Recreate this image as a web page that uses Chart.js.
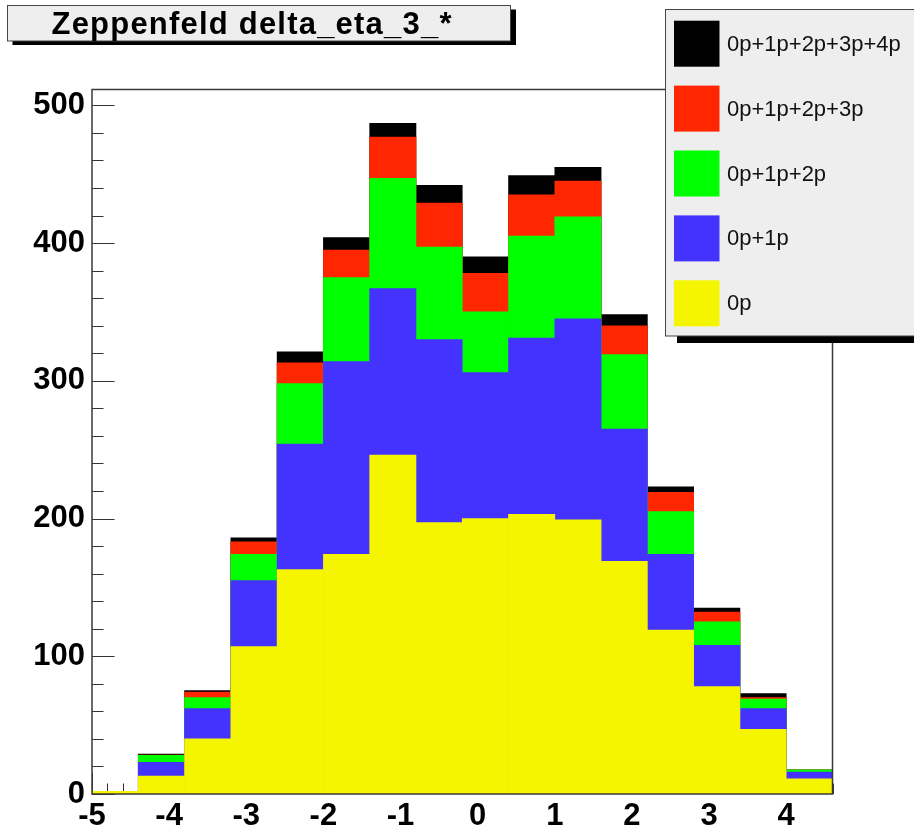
<!DOCTYPE html>
<html>
<head>
<meta charset="utf-8">
<title>Zeppenfeld delta_eta_3_*</title>
<script src="https://cdn.jsdelivr.net/npm/chart.js@4.4.1/dist/chart.umd.min.js"></script>
<style>
  html, body { margin: 0; padding: 0; background: #ffffff; }
  canvas { display: block; }
</style>
</head>
<body>
<canvas id="c" width="914" height="833"></canvas>
<script>
// Bin centres of the delta_eta histogram (16 bins of width 0.6 from -5 to 4.6)
const binCenters = [-4.7, -4.1, -3.5, -2.9, -2.3, -1.7, -1.1, -0.5, 0.1, 0.7, 1.3, 1.9, 2.5, 3.1, 3.7, 4.3];

// Cumulative event counts per bin for each parton-multiplicity sum
const h0p      = [2, 13, 40, 107, 163, 174, 246, 197, 200, 203, 199, 169, 119, 78, 47, 11];
const h01p     = [2, 23, 62, 155, 254, 314, 367, 330, 306, 331, 345, 265, 174, 108, 62, 16];
const h012p    = [2, 28, 70, 174, 298, 375, 447, 397, 350, 405, 419, 319, 205, 125, 69, 17.5];
const h0123p   = [2, 28.3, 74, 183, 313, 395, 477, 429, 378, 435, 445, 340, 219, 132, 70, 17.5];
const h01234p  = [2, 29, 75, 186, 321, 404, 487, 442, 390, 449, 455, 348, 223, 135, 73, 17.5];

const xTicks = [-5, -4, -3, -2, -1, 0, 1, 2, 3, 4];
const yTicks = [0, 100, 200, 300, 400, 500];

const seriesLabels = ['0p', '0p+1p', '0p+1p+2p', '0p+1p+2p+3p', '0p+1p+2p+3p+4p'];
const seriesValues = [h0p, h01p, h012p, h0123p, h01234p];
const seriesColors = ['#f5f500', '#4433ff', '#00ff00', '#ff2600', '#000000'];

const titleText = 'Zeppenfeld delta_eta_3_*';
const FONT = '"Liberation Sans", Arial, Helvetica, sans-serif';

// Inward tick marks (drawn under the histograms, like ROOT axes)
const axisTicks = {
  id: 'axisTicks',
  beforeDatasetsDraw(chart) {
    const { ctx, chartArea: a, scales: { x, y } } = chart;
    ctx.save();
    ctx.strokeStyle = '#333333';
    ctx.lineWidth = 1;
    ctx.beginPath();
    // y axis: major every 100, minor every 20
    for (let k = 0; k * 20 <= y.max; k++) {
      const v = k * 20;
      const p = Math.round(y.getPixelForValue(v)) + 0.5;
      const len = (v % 100 === 0) ? 22.5 : 11.5;
      ctx.moveTo(a.left, p);
      ctx.lineTo(a.left + len, p);
    }
    // x axis: major every 1, minor every 0.2
    for (let k = 0; xTicks[0] + k * 0.2 <= x.max + 1e-9; k++) {
      const v = xTicks[0] + k * 0.2;
      const p = Math.round(x.getPixelForValue(v)) + 0.5;
      const len = (k % 5 === 0) ? 21 : 10.5;
      ctx.moveTo(p, a.bottom);
      ctx.lineTo(p, a.bottom - len);
    }
    ctx.stroke();
    ctx.restore();
  },
  afterDatasetsDraw(chart) {
    const { ctx, chartArea: a } = chart;
    ctx.save();
    ctx.strokeStyle = '#3a3a3a';
    ctx.lineWidth = 1.5;
    ctx.strokeRect(a.left, a.top, a.right - a.left, a.bottom - a.top);
    ctx.restore();
  }
};

// Title pave and legend box with ROOT-style drop shadows
const paves = {
  id: 'paves',
  afterDraw(chart) {
    const ctx = chart.ctx;
    ctx.save();

    // title pave
    ctx.fillStyle = '#000000';
    ctx.fillRect(12.5, 9.5, 503.5, 35.5);
    ctx.fillStyle = '#eeeeee';
    ctx.fillRect(7.5, 5, 503, 36);
    ctx.strokeStyle = '#444444';
    ctx.lineWidth = 1;
    ctx.strokeRect(7.5, 5.5, 503, 35.5);

    ctx.fillStyle = '#000000';
    ctx.font = 'bold 31px ' + FONT;
    ctx.textAlign = 'left';
    ctx.textBaseline = 'alphabetic';
    const targetWidth = 400;
    const natural = ctx.measureText(titleText).width;
    const spacing = (targetWidth - natural) / (titleText.length - 1);
    if ('letterSpacing' in ctx) {
      ctx.letterSpacing = spacing.toFixed(2) + 'px';
      ctx.fillText(titleText, 251.5 - targetWidth / 2, 34);
      ctx.letterSpacing = '0px';
    } else {
      ctx.translate(251.5 - targetWidth / 2, 34);
      ctx.scale(targetWidth / natural, 1);
      ctx.fillText(titleText, 0, 0);
      ctx.setTransform(1, 0, 0, 1, 0, 0);
    }

    // legend box
    ctx.fillStyle = '#000000';
    ctx.fillRect(677, 16, 300, 327);
    ctx.fillStyle = '#eeeeee';
    ctx.fillRect(665.5, 9.5, 300, 326.5);
    ctx.strokeStyle = '#444444';
    ctx.strokeRect(665.5, 9.5, 300, 326.5);

    ctx.font = '22px ' + FONT;
    ctx.textAlign = 'left';
    ctx.textBaseline = 'middle';
    const ds = chart.data.datasets.slice().reverse();
    ds.forEach((d, i) => {
      const cy = 43.7 + i * 64.9;
      ctx.fillStyle = d.backgroundColor;
      ctx.fillRect(674, cy - 23, 45.5, 46);
      ctx.fillStyle = '#111111';
      ctx.fillText(d.label, 727, cy + 1);
    });
    ctx.restore();
  }
};

const datasets = seriesLabels.map((label, i) => ({
  label,
  data: binCenters.map((c, j) => ({ x: c, y: seriesValues[i][j] })),
  backgroundColor: seriesColors[i],
  borderWidth: 0,
  grouped: false,
  barPercentage: 1,
  categoryPercentage: 1
}));

new Chart(document.getElementById('c'), {
  type: 'bar',
  data: { datasets },
  options: {
    responsive: false,
    animation: false,
    devicePixelRatio: 1,
    layout: { padding: { left: 0, top: 89.5, right: 81.5, bottom: 0 } },
    plugins: { legend: { display: false }, title: { display: false }, tooltip: { enabled: false } },
    scales: {
      x: {
        type: 'linear',
        min: -5,
        max: 4.6,
        offset: false,
        grid: { display: false, drawTicks: false, offset: false },
        border: { display: false },
        afterBuildTicks: s => { s.ticks = xTicks.map(v => ({ value: v })); },
        afterFit: s => { s.height = 39; },
        ticks: {
          padding: 4,
          autoSkip: false,
          maxRotation: 0,
          color: '#000000',
          font: { family: FONT, size: 31, weight: 'bold' },
          callback: v => String(v)
        }
      },
      y: {
        type: 'linear',
        min: 0,
        max: 511.5,
        grid: { display: false, drawTicks: false },
        border: { display: false },
        afterBuildTicks: s => { s.ticks = yTicks.map(v => ({ value: v })); },
        afterFit: s => { s.width = 92; },
        ticks: {
          padding: 7,
          color: '#000000',
          font: { family: FONT, size: 31, weight: 'bold' },
          callback: v => String(v)
        }
      }
    }
  },
  plugins: [axisTicks, paves]
});
</script>
</body>
</html>
